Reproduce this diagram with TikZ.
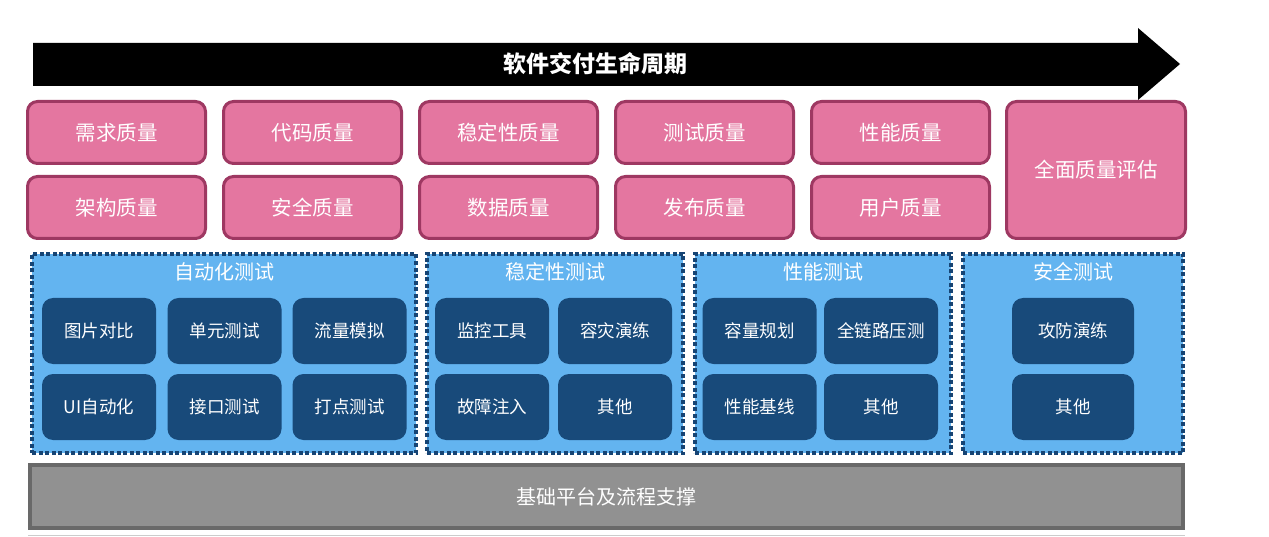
\documentclass[tikz,border=0pt]{standalone}
\usepackage{fontspec}
\setmainfont{Noto Sans CJK SC}
\usetikzlibrary{positioning}
\definecolor{qpink}{RGB}{228,118,160}
\definecolor{qpinkline}{RGB}{158,56,98}
\definecolor{tblue}{RGB}{99,180,240}
\definecolor{tdots}{RGB}{22,68,116}
\definecolor{tnavy}{RGB}{24,74,122}
\definecolor{bgray}{RGB}{145,145,145}
\definecolor{bgrayline}{RGB}{105,105,105}

\begin{document}
\begin{tikzpicture}[x=1pt, y=-1pt,
    quality/.style={rectangle, rounded corners=10pt, draw=qpinkline, fill=qpink, line width=3pt, minimum width=178pt, minimum height=62pt, text=white, font=\fontsize{20.5}{24}\selectfont},
    testgroup/.style={rectangle, draw=tdots, fill=tblue, line width=4pt, dash pattern=on 4pt off 2.5pt, minimum height=199pt},
    grouptitle/.style={text=white, font=\fontsize{20}{23}\selectfont, inner sep=0pt},
    tool/.style={rectangle, rounded corners=11pt, fill=tnavy, minimum width=114pt, minimum height=66pt, text=white, font=\fontsize{17.5}{20}\selectfont}
]
\useasboundingbox (0,0) rectangle (1269,537);

% lifecycle arrow
\fill[black] (33,43) -- (1138,43) -- (1138,28) -- (1180,64) -- (1138,100) -- (1138,86) -- (33,86) -- cycle;
\node[text=white, font=\fontsize{23}{26}\selectfont\bfseries] (life) at (595,64) {软件交付生命周期};

% quality boxes
\node[quality] (q1) at (116.5,132.5) {需求质量};
\node[quality] (q2) at (312.5,132.5) {代码质量};
\node[quality] (q3) at (508.5,132.5) {稳定性质量};
\node[quality] (q4) at (704.5,132.5) {测试质量};
\node[quality] (q5) at (900.5,132.5) {性能质量};
\node[quality] (q6) at (116.5,207.5) {架构质量};
\node[quality] (q7) at (312.5,207.5) {安全质量};
\node[quality] (q8) at (508.5,207.5) {数据质量};
\node[quality] (q9) at (704.5,207.5) {发布质量};
\node[quality] (q10) at (900.5,207.5) {用户质量};
\node[quality, minimum width=179pt, minimum height=137pt] (qall) at (1096,170) {全面质量评估};

% test groups
\node[testgroup, minimum width=384pt] (auto) at (224,353.5) {};
\node[testgroup, minimum width=256pt] (stab) at (555,353.5) {};
\node[testgroup, minimum width=256pt] (perf) at (823,353.5) {};
\node[testgroup, minimum width=220pt] (sec) at (1073,353.5) {};
\node[grouptitle, below=10pt of auto.north] (autot) {自动化测试};
\node[grouptitle, below=10pt of stab.north] (stabt) {稳定性测试};
\node[grouptitle, below=10pt of perf.north] (perft) {性能测试};
\node[grouptitle, below=10pt of sec.north] (sect) {安全测试};

\node[tool] (a1) at (99,331) {图片对比};
\node[tool] (a2) at (224.5,331) {单元测试};
\node[tool] (a3) at (349.5,331) {流量模拟};
\node[tool] (a4) at (99,407) {UI自动化};
\node[tool] (a5) at (224.5,407) {接口测试};
\node[tool] (a6) at (349.5,407) {打点测试};

\node[tool] (s1) at (492,331) {监控工具};
\node[tool] (s2) at (615,331) {容灾演练};
\node[tool] (s3) at (492,407) {故障注入};
\node[tool] (s4) at (615,407) {其他};

\node[tool] (p1) at (759.5,331) {容量规划};
\node[tool] (p2) at (881,331) {全链路压测};
\node[tool] (p3) at (759.5,407) {性能基线};
\node[tool] (p4) at (881,407) {其他};

\node[tool, minimum width=122pt] (x1) at (1073,331) {攻防演练};
\node[tool, minimum width=122pt] (x2) at (1073,407) {其他};

% platform
\node[rectangle, draw=bgrayline, fill=bgray, line width=4pt, minimum width=1153pt, minimum height=63pt, text=white, font=\fontsize{20}{23}\selectfont] (base) at (606.5,496.5) {基础平台及流程支撑};
\draw[black!20, line width=1pt] ([yshift=-5pt]base.south west) -- ([yshift=-5pt]base.south east);
\end{tikzpicture}
\end{document}
